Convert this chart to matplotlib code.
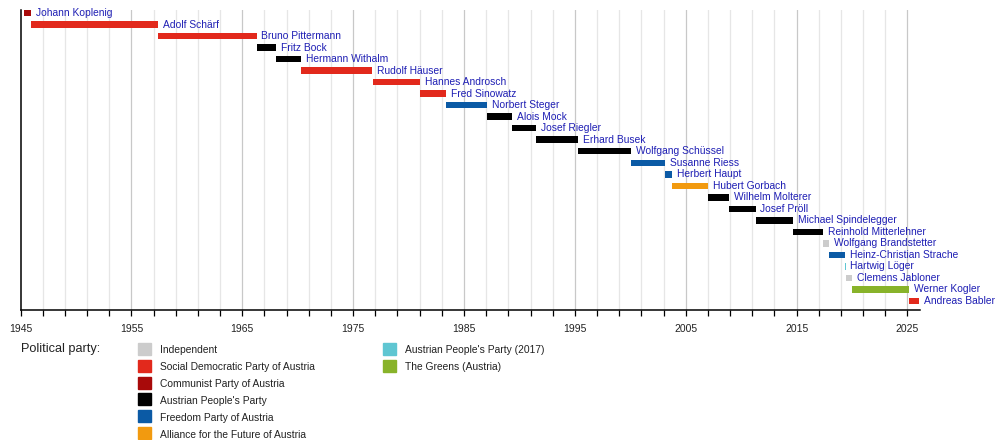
import datetime as dt

import matplotlib
matplotlib.use("Agg")
import matplotlib.pyplot as plt
from matplotlib.patches import Rectangle

plt.rcParams["font.family"] = ["Liberation Sans", "DejaVu Sans"]

# vice-chancellors, terms and parties
names = ["Johann Koplenig", "Adolf Schärf", "Bruno Pittermann", "Fritz Bock", "Hermann Withalm",
         "Rudolf Häuser", "Hannes Androsch", "Fred Sinowatz", "Norbert Steger", "Alois Mock",
         "Josef Riegler", "Erhard Busek", "Wolfgang Schüssel", "Susanne Riess", "Herbert Haupt",
         "Hubert Gorbach", "Wilhelm Molterer", "Josef Pröll", "Michael Spindelegger",
         "Reinhold Mitterlehner", "Wolfgang Brandstetter", "Heinz-Christian Strache",
         "Hartwig Löger", "Clemens Jabloner", "Werner Kogler", "Andreas Babler"]
starts = ["1945-04-27", "1945-12-20", "1957-05-22", "1966-04-19", "1968-01-19", "1970-04-21",
          "1976-10-01", "1981-01-20", "1983-05-24", "1987-01-21", "1989-04-24", "1991-07-02",
          "1995-04-22", "2000-02-04", "2003-02-28", "2003-10-21", "2007-01-11", "2008-12-02",
          "2011-04-21", "2014-09-01", "2017-05-17", "2017-12-18", "2019-05-22", "2019-06-03",
          "2020-01-07", "2025-03-03"]
ends = ["1945-12-20", "1957-05-22", "1966-04-19", "1968-01-19", "1970-04-21", "1976-09-30",
        "1981-01-20", "1983-05-24", "1987-01-21", "1989-04-24", "1991-07-02", "1995-04-22",
        "2000-02-04", "2003-02-28", "2003-10-21", "2007-01-11", "2008-12-02", "2011-04-21",
        "2014-09-01", "2017-05-17", "2017-12-18", "2019-05-22", "2019-06-03", "2020-01-07",
        "2025-03-03", "2026-01-20"]
parties = ["KPO", "SPO", "SPO", "OVP", "OVP", "SPO", "SPO", "SPO", "FPO", "OVP", "OVP", "OVP",
           "OVP", "FPO", "FPO", "BZO", "OVP", "OVP", "OVP", "OVP", "IND", "FPO", "OVP17", "IND",
           "GRU", "SPO"]

party_keys = ["IND", "SPO", "KPO", "OVP", "FPO", "BZO", "OVP17", "GRU"]
party_names = ["Independent", "Social Democratic Party of Austria", "Communist Party of Austria",
               "Austrian People's Party", "Freedom Party of Austria",
               "Alliance for the Future of Austria", "Austrian People's Party (2017)",
               "The Greens (Austria)"]
party_colors = ["#cccccc", "#e2291c", "#a80a0a", "#000000", "#0b5aa5", "#f29a0f", "#5fc6d2", "#88b32a"]
color_of = dict(zip(party_keys, party_colors))

year_ticks = list(range(1945, 2026, 10))


def year_frac(s):
    d = dt.date.fromisoformat(s)
    y0 = dt.date(d.year, 1, 1)
    return d.year + (d - y0).days / (dt.date(d.year + 1, 1, 1) - y0).days


W, H = 1000, 440
fig = plt.figure(figsize=(W / 100, H / 100), dpi=100)


def fx(x):
    return x / W


def fy(y):
    return 1 - y / H


ax = fig.add_axes([fx(20.5), fy(310), fx(920) - fx(20.5), fy(10) - fy(310)])
ax.set_xlim(1945, 2026.13)
ax.set_ylim(25.78, -0.26)

for yr in range(1947, 2026, 2):
    major = (yr - 1945) % 10 == 0
    ax.axvline(yr, color="#c8c8c8" if major else "#e6e6e6", lw=0.9, zorder=0)

for i, (n, s, e, p) in enumerate(zip(names, starts, ends, parties)):
    x0, x1 = year_frac(s), year_frac(e)
    ax.barh(i, x1 - x0, left=x0, height=0.56, color=color_of[p], lw=0, zorder=2)
    ax.annotate(n, (x1, i), xytext=(3.5, 0), textcoords="offset points", va="center",
                ha="left", fontsize=7.4, color="#1f1fb4", annotation_clip=False)

for sp in ("top", "right"):
    ax.spines[sp].set_visible(False)
ax.spines["left"].set_linewidth(1.1)
ax.spines["bottom"].set_linewidth(1.1)
ax.set_yticks([])
ax.set_xticks(year_ticks)
ax.set_xticklabels([str(y) for y in year_ticks], fontsize=7.5, color="#222222")
ax.set_xticks(range(1945, 2027, 2), minor=True)
ax.tick_params(axis="x", which="both", length=4, width=0.9, direction="out", pad=6)

# legend
fig.text(fx(21), fy(349), "Political party:", fontsize=9.2, color="#222222", va="center")
cols = [(138, 160), (383, 405)]
for k, (lab, col) in enumerate(zip(party_names, party_colors)):
    c = 0 if k < 6 else 1
    r = k if k < 6 else k - 6
    bx, tx = cols[c]
    yc = 348.7 + 16.9 * r
    fig.patches.append(Rectangle((fx(bx), fy(yc + 6)), fx(13), 12 / H, color=col,
                                 transform=fig.transFigure, figure=fig))
    fig.text(fx(tx), fy(yc + 1.7), lab, fontsize=7.4, color="#222222", va="center")

fig.savefig("out.png", dpi=100)
